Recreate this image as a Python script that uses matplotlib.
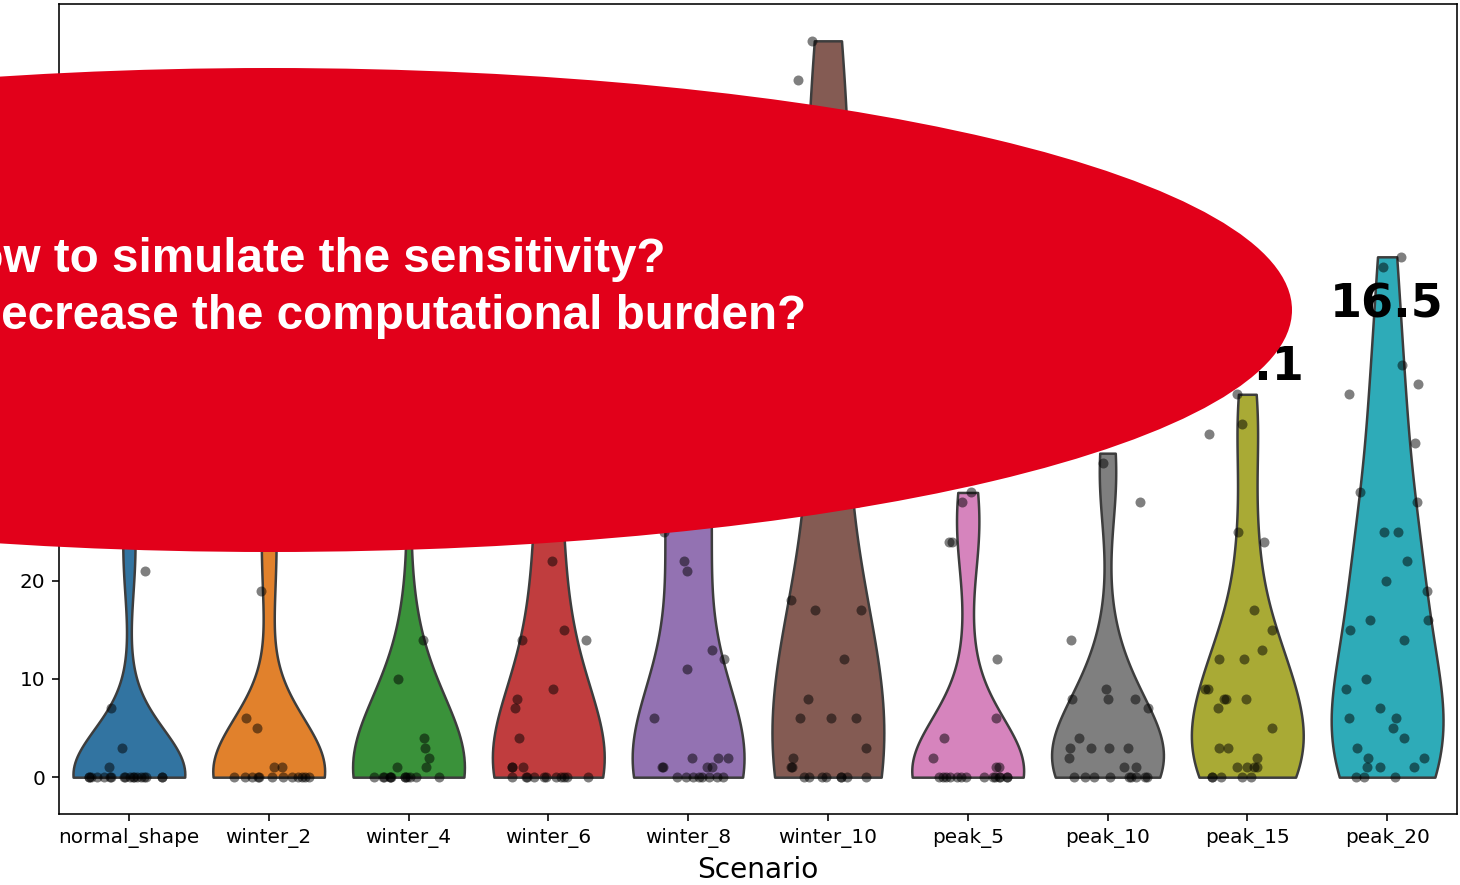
import numpy as np
import pandas as pd
import matplotlib
matplotlib.use("Agg")
import matplotlib.pyplot as plt
import seaborn as sns
from matplotlib.patches import Ellipse

# ---- data -------------------------------------------------------------
scenarios = ["normal_shape", "winter_2", "winter_4", "winter_6", "winter_8",
             "winter_10", "peak_5", "peak_10", "peak_15", "peak_20"]

normal_shape = [0] * 18 + [1, 3, 7, 21, 24, 30]
winter_2 = [0] * 12 + [1, 1, 5, 6, 19, 25, 31]
winter_4 = [0] * 12 + [1, 1, 2, 3, 4, 10, 14, 35, 50]
winter_6 = [0] * 11 + [1, 1, 1, 4, 7, 8, 9, 14, 14, 15, 22, 25, 28, 33, 40, 50]
winter_8 = [0] * 8 + [1, 1, 1, 1, 2, 2, 2, 6, 11, 12, 13, 21, 22, 25, 27, 29,
                      32, 35, 38, 42, 48]
winter_10 = [0] * 8 + [1, 1, 2, 3, 6, 6, 6, 8, 12, 17, 17, 18, 28, 35, 40,
                       45, 50, 55, 60, 63, 66, 71, 75]
peak_5 = [0] * 14 + [1, 1, 2, 4, 6, 12, 24, 24, 28, 29]
peak_10 = [0] * 9 + [1, 1, 2, 3, 3, 3, 3, 4, 7, 8, 8, 8, 9, 14, 28, 32, 33]
peak_15 = [0] * 5 + [1, 1, 1, 1, 2, 3, 3, 5, 7, 8, 8, 8, 9, 9, 12, 12, 13, 15,
                     17, 24, 25, 35, 36, 39]
peak_20 = [0] * 3 + [1, 1, 1, 2, 2, 3, 4, 5, 6, 6, 7, 9, 10, 14, 15, 16, 16, 19,
                     20, 22, 25, 25, 28, 29, 34, 39, 40, 42, 52, 53]

series = [normal_shape, winter_2, winter_4, winter_6, winter_8,
          winter_10, peak_5, peak_10, peak_15, peak_20]

headline = ["How to simulate the sensitivity?",
            "How to decrease the computational burden?"]

df = pd.DataFrame({
    "Scenario": np.repeat(scenarios, [len(s) for s in series]),
    "Value": np.concatenate([np.asarray(s, dtype=float) for s in series]),
})

# ---- figure -----------------------------------------------------------
W, H, DPI = 1460, 885, 144
fig = plt.figure(figsize=(W / DPI, H / DPI), dpi=DPI)
ax = fig.add_axes([59 / W, 1 - 814 / H, (1457 - 59) / W, (814 - 4) / H])

sns.violinplot(data=df, x="Scenario", y="Value", hue="Scenario",
               palette="tab10", cut=0, density_norm="width", inner=None,
               legend=False, ax=ax)
np.random.seed(3)
sns.stripplot(data=df, x="Scenario", y="Value", color="black", alpha=0.5,
              jitter=0.3, size=5, ax=ax)

ax.set_xlabel("Scenario", fontsize=14)
ax.set_ylabel("")
ax.tick_params(labelsize=10)

# mean value written above each violin
means = df.groupby("Scenario", sort=False)["Value"].mean()
for i, name in enumerate(scenarios):
    m = means[name]
    ax.text(i, m + 31.5, f"{m:.1f}", ha="center", va="center",
            fontsize=23, fontweight="bold", color="black", zorder=4)

# red callout bubble with the two questions
px = lambda x: x / W
py = lambda y: 1 - y / H
bubble = Ellipse((px(270), py(310)), 2 * 1022 / W, 2 * 242 / H,
                 transform=fig.transFigure, facecolor="#e2001a",
                 edgecolor="none", zorder=5)
fig.patches.append(bubble)
for line, base in zip(headline, [272, 329]):
    fig.text(px(303), py(base), line, ha="center", va="baseline",
             fontsize=23.8, fontweight="bold", color="white",
             family="Liberation Sans", zorder=6)

fig.savefig("out.png", dpi=DPI)
